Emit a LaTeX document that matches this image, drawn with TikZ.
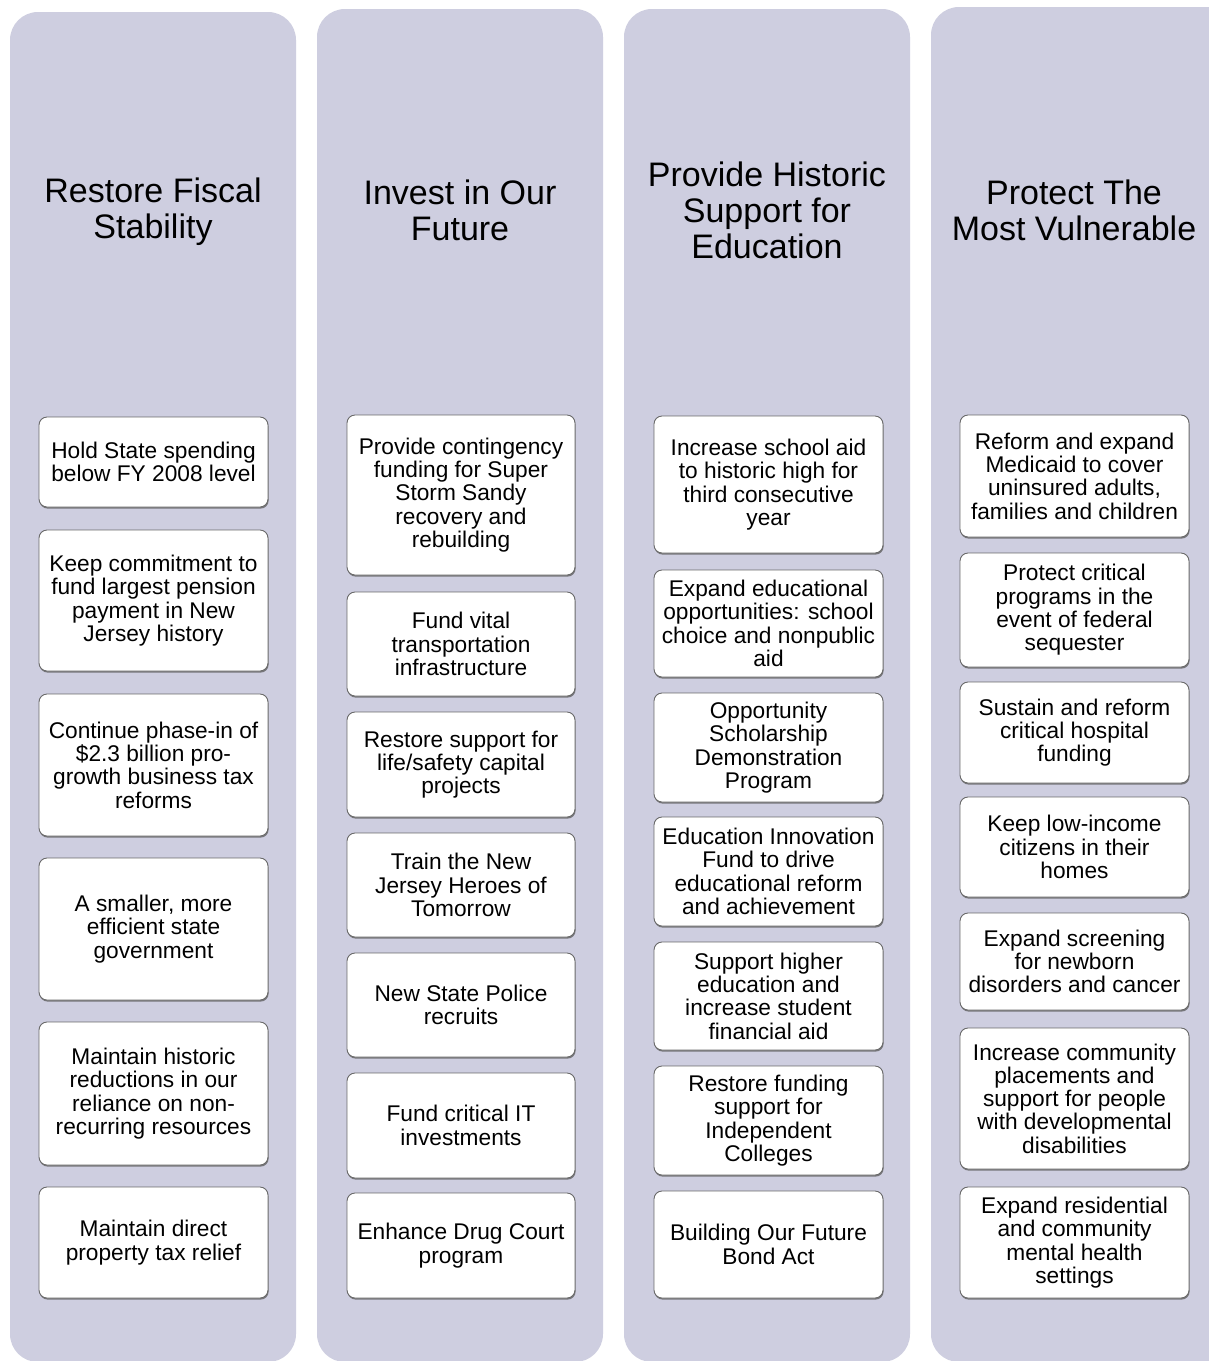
\documentclass[tikz,border=0pt]{standalone}
\usepackage{fontspec}
\setmainfont{Liberation Sans}
\usetikzlibrary{shadows}
\definecolor{colfill}{RGB}{206,206,224}
\definecolor{boxline}{RGB}{105,105,105}
\definecolor{shadowc}{RGB}{90,90,90}
\tikzset{
  column/.style={fill=colfill, draw=none, rounded corners=28pt},
  coltitle/.style={align=center, inner sep=0pt, font=\fontsize{34}{36}\selectfont, text=black},
  itembox/.style={rectangle, rounded corners=8pt, draw=boxline, line width=0.9pt, fill=white,
    align=center, inner sep=0pt, font=\fontsize{22.7}{23.3}\selectfont,
    drop shadow={shadow xshift=0.6pt, shadow yshift=-1.6pt, fill=shadowc, opacity=0.75}}
}
\newcommand\pbox[6]{\node[itembox, minimum width={#4-#2}, minimum height={#5-#3}] (#1) at ({(#2+#4)/2},{(#3+#5)/2}) {#6};}
\begin{document}
\begin{tikzpicture}[x=1pt,y=-1pt]
\useasboundingbox (0,0) rectangle (1209,1361);
\fill[white] (0,0) rectangle (1209,1361);
% columns
\fill[column] (10,12) rectangle (296,1362);
\fill[column] (317,9) rectangle (603,1362);
\fill[column] (624,9) rectangle (910,1362);
\fill[column] (931,7) rectangle (1234,1362);
% titles
\node[coltitle] (t1) at (153,212) {Restore Fiscal\\Stability};
\node[coltitle] (t2) at (460,210) {Invest in Our\\Future};
\node[coltitle] (t3) at (767,210) {Provide Historic\\Support for\\Education};
\node[coltitle] (t4) at (1074,210) {Protect The\\Most Vulnerable};
% column 1
\pbox{a1}{39}{417}{268}{507}{Hold State spending\\below FY 2008 level}
\pbox{a2}{39}{530}{268}{671}{Keep commitment to\\fund largest pension\\payment in New\\Jersey history}
\pbox{a3}{39}{694}{268}{836}{Continue phase-in of\\\$2.3 billion pro-\\growth business tax\\reforms}
\pbox{a4}{39}{858}{268}{1000}{A smaller, more\\efficient state\\government}
\pbox{a5}{39}{1022}{268}{1165}{Maintain historic\\reductions in our\\reliance on non-\\recurring resources}
\pbox{a6}{39}{1187}{268}{1298}{Maintain direct\\property tax relief}
% column 2
\pbox{b1}{347}{415}{575}{575}{Provide contingency\\funding for Super\\Storm Sandy\\recovery and\\rebuilding}
\pbox{b2}{347}{592}{575}{696}{Fund vital\\transportation\\infrastructure}
\pbox{b3}{347}{712}{575}{817}{Restore support for\\life/safety capital\\projects}
\pbox{b4}{347}{833}{575}{937}{Train the New\\Jersey Heroes of\\Tomorrow}
\pbox{b5}{347}{953}{575}{1057}{New State Police\\recruits}
\pbox{b6}{347}{1073}{575}{1178}{Fund critical IT\\investments}
\pbox{b7}{347}{1193}{575}{1298}{Enhance Drug Court\\program}
% column 3
\pbox{c1}{654}{416}{883}{553}{Increase school aid\\to historic high for\\third consecutive\\year}
\pbox{c2}{654}{570}{883}{677}{Expand educational\\opportunities: school\\choice and nonpublic\\aid}
\pbox{c3}{654}{693}{883}{802}{Opportunity\\Scholarship\\Demonstration\\Program}
\pbox{c4}{654}{817}{883}{926}{Education Innovation\\Fund to drive\\educational reform\\and achievement}
\pbox{c5}{654}{942}{883}{1050}{Support higher\\education and\\increase student\\financial aid}
\pbox{c6}{654}{1066}{883}{1175}{Restore funding\\support for\\Independent\\Colleges}
\pbox{c7}{654}{1191}{883}{1298}{Building Our Future\\Bond Act}
% column 4
\pbox{d1}{960}{415}{1189}{537}{Reform and expand\\Medicaid to cover\\uninsured adults,\\families and children}
\pbox{d2}{960}{553}{1189}{667}{Protect critical\\programs in the\\event of federal\\sequester}
\pbox{d3}{960}{682}{1189}{783}{Sustain and reform\\critical hospital\\funding}
\pbox{d4}{960}{797}{1189}{897}{Keep low-income\\citizens in their\\homes}
\pbox{d5}{960}{913}{1189}{1010}{Expand screening\\for newborn\\disorders and cancer}
\pbox{d6}{960}{1028}{1189}{1169}{Increase community\\placements and\\support for people\\with developmental\\disabilities}
\pbox{d7}{960}{1187}{1189}{1298}{Expand residential\\and community\\mental health\\settings}
\end{tikzpicture}
\end{document}
